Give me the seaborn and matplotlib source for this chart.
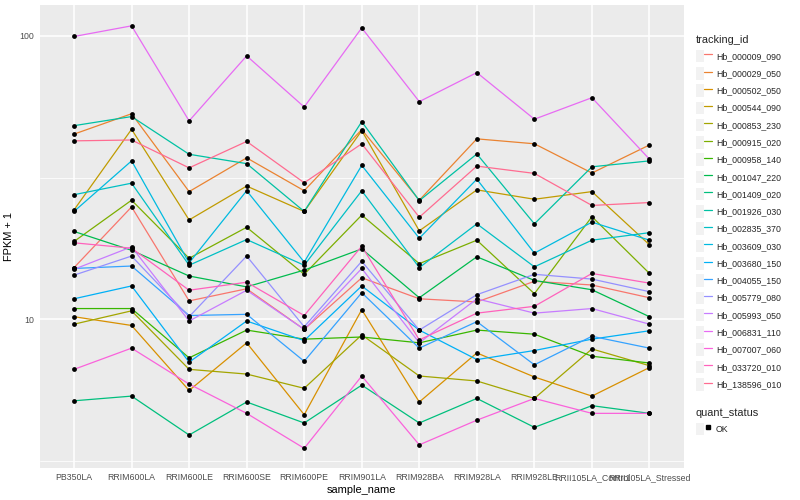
import pandas as pd
import seaborn as sns
import matplotlib.pyplot as plt
from matplotlib.lines import Line2D
from matplotlib.patches import Patch
from matplotlib.legend_handler import HandlerTuple
from matplotlib.ticker import FixedLocator, FixedFormatter, NullFormatter

# samples on the x axis, in plotting order
samples = ['PB350LA', 'RRIM600LA', 'RRIM600LE', 'RRIM600SE', 'RRIM600PE', 'RRIM901LA',
           'RRIM928BA', 'RRIM928LA', 'RRIM928LE', 'RRII105LA_Control', 'RRII105LA_Stressed']

tracking_ids = ['Hb_000009_090', 'Hb_000029_050', 'Hb_000502_050', 'Hb_000544_090',
                'Hb_000853_230', 'Hb_000915_020', 'Hb_000958_140', 'Hb_001047_220',
                'Hb_001409_020', 'Hb_001926_030', 'Hb_002835_370', 'Hb_003609_030',
                'Hb_003680_150', 'Hb_004055_150', 'Hb_005779_080', 'Hb_005993_050',
                'Hb_006831_110', 'Hb_007007_060', 'Hb_033720_010', 'Hb_138596_010']

# ggplot default hue palette for 20 levels
colors = ['#F8766D', '#EA8331', '#D89000', '#C09B00', '#A3A500', '#7CAE00', '#39B600',
          '#00BB4E', '#00BF7D', '#00C1A3', '#00BFC4', '#00BAE0', '#00B0F6', '#35A2FF',
          '#9590FF', '#C77CFF', '#E76BF3', '#FA62DB', '#FF62BC', '#FF6C91']

# FPKM + 1 per sample
hb_000009_090 = [15.2, 24.9, 11.6, 12.8, 9.2, 14.0, 11.8, 11.5, 13.6, 13.2, 11.9]
hb_000029_050 = [45.0, 53.1, 28.2, 37.1, 28.4, 46.7, 26.3, 43.3, 41.6, 32.8, 41.2]
hb_000502_050 = [10.2, 9.5, 5.6, 8.25, 4.6, 10.8, 5.1, 7.6, 6.25, 5.35, 6.75]
hb_000544_090 = [24.3, 46.8, 22.4, 29.5, 24.0, 46.3, 20.5, 28.6, 26.5, 28.2, 18.3]
hb_000853_230 = [9.6, 10.7, 6.65, 6.4, 5.7, 8.8, 6.3, 6.05, 5.25, 7.85, 6.85]
hb_000915_020 = [18.8, 26.3, 16.4, 21.1, 14.4, 23.3, 15.7, 19.0, 12.3, 23.0, 14.5]
hb_000958_140 = [10.9, 10.9, 7.3, 9.15, 8.5, 8.65, 8.25, 9.15, 8.85, 7.4, 7.0]
hb_001047_220 = [20.4, 17.5, 14.2, 13.0, 14.9, 17.7, 11.9, 16.6, 13.7, 12.7, 10.2]
hb_001409_020 = [5.15, 5.35, 3.9, 5.1, 4.3, 5.85, 4.3, 5.25, 4.15, 4.95, 4.65]
hb_001926_030 = [48.2, 51.9, 38.2, 35.4, 24.0, 49.8, 26.2, 38.3, 21.7, 34.5, 36.2]
hb_002835_370 = [27.5, 30.2, 15.5, 19.1, 15.5, 28.4, 15.2, 21.7, 15.3, 19.0, 20.2]
hb_003609_030 = [24.0, 36.2, 15.8, 28.4, 15.9, 34.9, 19.3, 31.2, 17.1, 22.0, 19.0]
hb_003680_150 = [11.8, 13.1, 7.05, 9.85, 8.4, 13.1, 9.15, 7.2, 7.75, 8.5, 9.1]
hb_004055_150 = [15.1, 15.4, 10.3, 10.4, 7.1, 12.4, 7.9, 9.8, 6.9, 8.7, 7.9]
hb_005779_080 = [14.3, 16.7, 10.2, 16.7, 9.4, 16.0, 9.15, 12.2, 14.4, 13.85, 12.5]
hb_005993_050 = [15.0, 18.0, 9.85, 12.65, 9.2, 15.1, 8.25, 11.8, 10.5, 10.9, 9.6]
hb_006831_110 = [99.5, 108.5, 50.1, 85.0, 56.1, 106.7, 58.6, 74.2, 50.8, 60.5, 36.7]
hb_007007_060 = [6.65, 7.9, 5.9, 4.65, 3.5, 6.3, 3.6, 4.4, 5.25, 4.65, 4.65]
hb_033720_010 = [18.6, 17.8, 12.65, 13.5, 10.3, 18.1, 8.45, 10.5, 11.1, 14.5, 13.4]
hb_138596_010 = [42.6, 42.9, 34.2, 42.4, 30.3, 41.6, 22.9, 34.7, 32.7, 25.2, 25.8]

series = [hb_000009_090, hb_000029_050, hb_000502_050, hb_000544_090, hb_000853_230,
          hb_000915_020, hb_000958_140, hb_001047_220, hb_001409_020, hb_001926_030,
          hb_002835_370, hb_003609_030, hb_003680_150, hb_004055_150, hb_005779_080,
          hb_005993_050, hb_006831_110, hb_007007_060, hb_033720_010, hb_138596_010]

# long format table
rows = []
for tid, vals in zip(tracking_ids, series):
    for s, v in zip(samples, vals):
        rows.append((tid, s, v, 'OK'))
df = pd.DataFrame(rows, columns=['tracking_id', 'sample_name', 'fpkm', 'quant_status'])

sns.set_theme(style='darkgrid', rc={'axes.facecolor': '#EBEBEB', 'grid.color': 'white'})
plt.rcParams['font.family'] = ['Liberation Sans', 'DejaVu Sans']

fig = plt.figure(figsize=(8, 5), dpi=100)
ax = fig.add_axes([39.5 / 800, 1 - 468.3 / 500, (684 - 39.5) / 800, (468.3 - 5) / 500])
ax.set_yscale('log')

sns.lineplot(data=df, x='sample_name', y='fpkm', hue='tracking_id', hue_order=tracking_ids,
             palette=colors, sort=False, estimator=None, errorbar=None, lw=0.9,
             legend=False, ax=ax)
sns.scatterplot(data=df, x='sample_name', y='fpkm', color='black', s=12, linewidth=0,
                legend=False, ax=ax, zorder=3)

ax.set_xlim(-0.6, len(samples) - 0.4)
ax.set_ylim(10 ** 0.4735, 10 ** 2.109)
ax.yaxis.set_major_locator(FixedLocator([10, 100]))
ax.yaxis.set_major_formatter(FixedFormatter(['10', '100']))
ax.yaxis.set_minor_locator(FixedLocator([10 ** 0.5, 10 ** 1.5]))
ax.yaxis.set_minor_formatter(NullFormatter())

ax.grid(which='major', color='white', lw=1.1)
ax.grid(which='minor', axis='y', color='white', lw=0.55)
ax.tick_params(axis='both', which='major', length=2.5, width=0.7, color='#333333',
               labelsize=6.3, labelcolor='#4D4D4D', pad=1.2)
ax.tick_params(which='minor', length=0)
for sp in ax.spines.values():
    sp.set_visible(False)

ax.set_xlabel('sample_name', fontsize=7.9, color='black', labelpad=1.5)
ax.set_ylabel('FPKM + 1', fontsize=7.9, color='black', labelpad=4)

key_bg = '#F2F2F2'
handles = [(Patch(facecolor=key_bg, edgecolor='none'), Line2D([], [], color=c, lw=0.9))
           for c in colors]
common = dict(loc='upper left', bbox_transform=fig.transFigure, frameon=False,
              fontsize=6.3, title_fontsize=7.9, handlelength=1.85, handleheight=1.83,
              labelspacing=0.54, handletextpad=0.45, borderpad=0, borderaxespad=0,
              alignment='left', handler_map={tuple: HandlerTuple(ndivide=None, pad=0)})
leg1 = ax.legend(handles, tracking_ids, title='tracking_id',
                 bbox_to_anchor=(696 / 800, 1 - 35 / 500), **common)
ax.add_artist(leg1)
ok_handle = (Patch(facecolor=key_bg, edgecolor='none'),
             Line2D([], [], ls='none', marker='s', color='black', ms=2.2))
ax.legend([ok_handle], ['OK'], title='quant_status',
          bbox_to_anchor=(696 / 800, 1 - 408 / 500), **common)

fig.savefig('out.png', dpi=100)
